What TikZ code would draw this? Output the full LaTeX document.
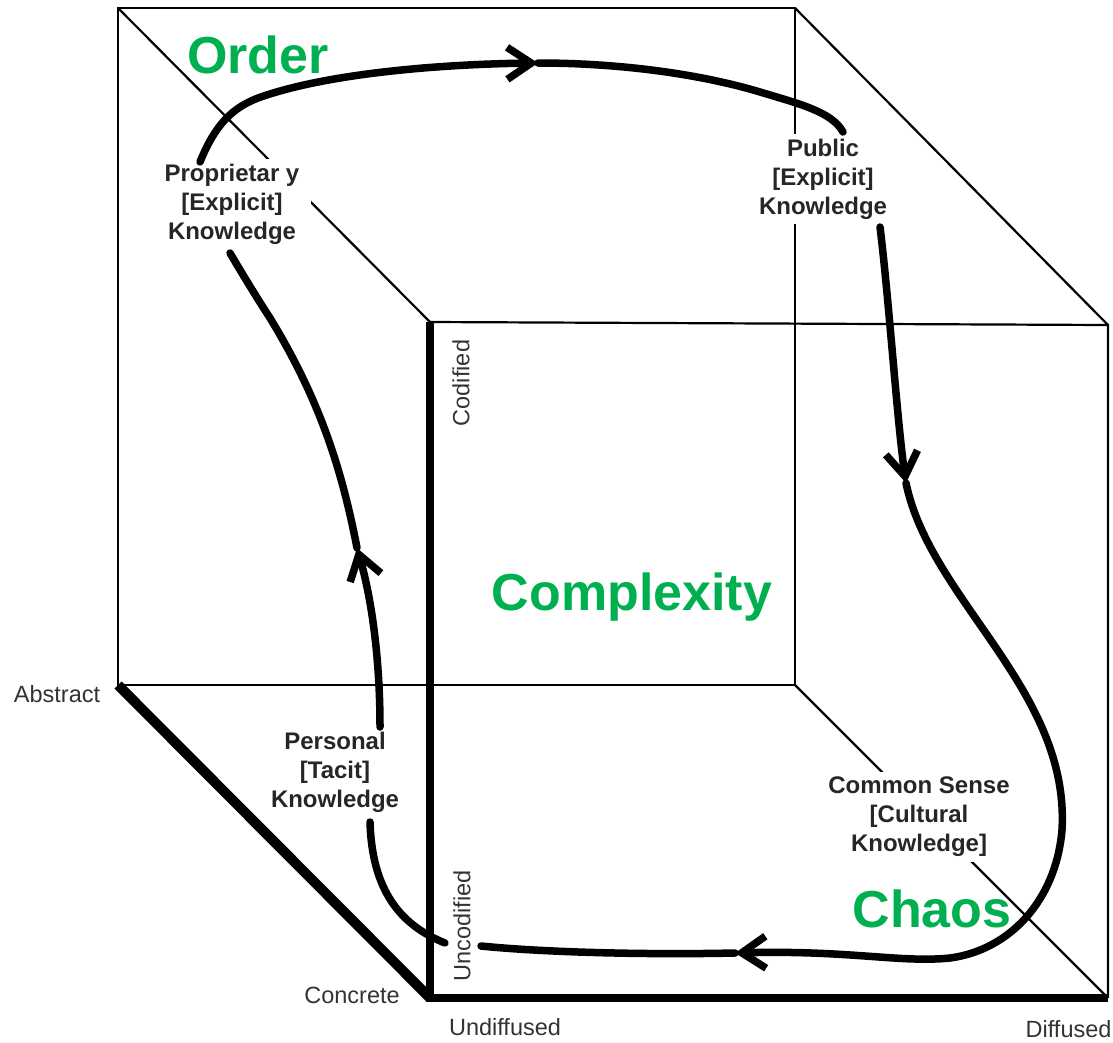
\documentclass[tikz,border=0pt]{standalone}
\usepackage{fontspec}
\setmainfont{Liberation Sans}
\usetikzlibrary{arrows.meta}
\definecolor{ordergreen}{HTML}{00B050}

\begin{document}
\begin{tikzpicture}[x=1pt, y=-1pt,
        edge/.style={line width=2.2pt},
        flow/.style={line width=7.5pt, line cap=round},
        headed/.style={-{Straight Barb[length=24pt, width=32pt]}},
        stage/.style={font=\bfseries\fontsize{24}{29}\selectfont, align=center, fill=white, inner xsep=12pt, inner ysep=5pt, text=black!85},
        axis/.style={font=\fontsize{23.5}{28}\selectfont, text=black!80, anchor=base},
        regime/.style={font=\bfseries\fontsize{52}{60}\selectfont, text=ordergreen, anchor=base}]
        \useasboundingbox (0, 0) rectangle (1113, 1042);
        \coordinate (B1) at (118, 8);
        \coordinate (B2) at (795, 8);
        \coordinate (B3) at (795, 685);
        \coordinate (B4) at (118, 685);
        \coordinate (F1) at (430, 322);
        \coordinate (F2) at (1108, 325);
        \coordinate (F3) at (1108, 998);
        \coordinate (F4) at (430, 998);
        \draw[edge] (B1) -- (B2) -- (B3) -- (B4) -- cycle;
        \draw[edge] (F1) -- (F2) -- (F3);
        \draw[edge] (B1) -- (F1);
        \draw[edge] (B2) -- (F2);
        \draw[edge] (B3) -- (F3);
        \draw[line width=10pt] (B4) -- (F4);
        \draw[line width=8pt] (F1) -- (F4) -- (F3);
        \node[stage] (prop) at (232, 204) {Proprietar y\\{}[Explicit]\\Knowledge};
        \node[stage] (pub) at (823, 179) {Public\\{}[Explicit]\\Knowledge};
        \node[stage] (pers) at (335, 772) {Personal\\{}[Tacit]\\Knowledge};
        \node[stage] (common) at (919, 817) {Common Sense\\{}[Cultural\\Knowledge]};
        \node[axis, rotate=90, anchor=center] (cod) at (461, 383) {Codified};
        \node[axis, rotate=90, anchor=center] (uncod) at (462, 926) {Uncodified};
        \node[axis] (abs) at (57, 702) {Abstract};
        \node[axis] (conc) at (352, 1003) {Concrete};
        \node[axis] (undiff) at (505, 1035) {Undiffused};
        \node[axis, anchor=base east] (diff) at (1115, 1037) {Diffused};
        \coordinate (c1) at (200, 162);
        \coordinate (arrTop) at (538, 63);
        \coordinate (c2) at (843, 132);
        \coordinate (c3) at (880, 227);
        \coordinate (arrRight) at (906, 483);
        \coordinate (arrBottom) at (735, 953);
        \coordinate (c4) at (481, 946);
        \coordinate (c5) at (445, 943);
        \coordinate (c6) at (370, 822);
        \coordinate (c7) at (380, 727);
        \coordinate (arrLeft) at (357, 548);
        \coordinate (c8) at (230, 253);
        \draw[flow, headed] (c1) .. controls (215, 125) and (232, 108) .. (258, 98) .. controls (330, 72) and (450, 64) .. (arrTop);
        \draw[flow] (arrTop) .. controls (620, 63) and (700, 74) .. (760, 92) .. controls (800, 104) and (832, 112) .. (c2);
        \draw[flow, headed] (c3) .. controls (889, 300) and (897, 420) .. (arrRight);
        \draw[flow, headed] (arrRight) .. controls (930, 600) and (1070, 690) .. (1062, 830) .. controls (1056, 900) and (1010, 950) .. (950, 958) .. controls (900, 963) and (850, 950) .. (arrBottom);
        \draw[flow] (arrBottom) .. controls (640, 955) and (540, 952) .. (c4);
        \draw[flow] (c5) .. controls (400, 925) and (372, 890) .. (c6);
        \draw[flow, headed] (c7) .. controls (380, 660) and (372, 600) .. (arrLeft);
        \draw[flow] (arrLeft) .. controls (342, 470) and (320, 400) .. (270, 318) .. controls (255, 295) and (240, 270) .. (c8);
        \node[regime] (order) at (258, 73) {Order};
        \node[regime] (cplx) at (632, 610) {Complexity};
        \node[regime] (chaos) at (932, 927) {Chaos};
\end{tikzpicture}
\end{document}
